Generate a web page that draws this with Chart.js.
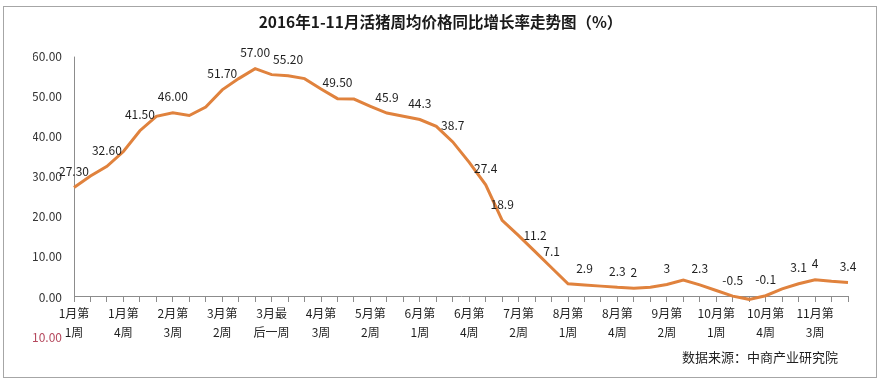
<!DOCTYPE html>
<html>
<head>
<meta charset="utf-8">
<script src="https://cdn.jsdelivr.net/npm/chart.js@4/dist/chart.umd.min.js"></script>
<style>
html,body{margin:0;padding:0;background:#fff;}
canvas{display:block;}
</style>
</head>
<body>
<canvas id="c" width="881" height="383"></canvas>
<script>
// ---- data ----
const chartTitle = '2016年1-11月活猪周均价格同比增长率走势图（%）';
const sourceNote = '数据来源：中商产业研究院';

const weeks = [
  '1月第1周','1月第2周','1月第3周','1月第4周','2月第1周','2月第2周','2月第3周','2月第4周',
  '3月第1周','3月第2周','3月第3周','3月第4周','3月最后一周','4月第1周','4月第2周','4月第3周',
  '4月第4周','5月第1周','5月第2周','5月第3周','5月第4周','6月第1周','6月第2周','6月第3周',
  '6月第4周','6月第5周','7月第1周','7月第2周','7月第3周','7月第4周','8月第1周','8月第2周',
  '8月第3周','8月第4周','8月第5周','9月第1周','9月第2周','9月第3周','9月第4周','10月第1周',
  '10月第2周','10月第3周','10月第4周','11月第1周','11月第2周','11月第3周','11月第4周','11月第5周'
];

const growth = [
  27.3, 30.2, 32.6, 36.3, 41.5, 45.1, 46.0, 45.3,
  47.4, 51.7, 54.5, 57.0, 55.5, 55.2, 54.5, 51.9,
  49.5, 49.4, 47.6, 45.9, 45.1, 44.3, 42.6, 38.7,
  33.6, 28.0, 19.1, 15.3, 11.3, 7.3, 3.3, 3.0,
  2.7, 2.4, 2.2, 2.4, 3.1, 4.2, 3.0, 1.6,
  0.2, -0.6, 0.3, 2.0, 3.3, 4.3, 3.9, 3.6
];

// data label text shown on the chart (null = no label)
const pointLabels = [
  '27.30', null, '32.60', null, '41.50', null, '46.00', null,
  null, '51.70', null, '57.00', null, '55.20', null, null,
  '49.50', null, null, '45.9', null, '44.3', null, '38.7',
  null, '27.4', '18.9', null, '11.2', '7.1', null, '2.9',
  null, '2.3', '2', null, '3', null, '2.3', null,
  '-0.5', null, '-0.1', null, '3.1', '4', null, '3.4'
];

const tickEvery = 3;
const tickLabels = [
  ['1月第','1周'], ['1月第','4周'], ['2月第','3周'], ['3月第','2周'],
  ['3月最','后一周'], ['4月第','3周'], ['5月第','2周'], ['6月第','1周'],
  ['6月第','4周'], ['7月第','2周'], ['8月第','1周'], ['8月第','4周'],
  ['9月第','2周'], ['10月第','1周'], ['10月第','4周'], ['11月第','3周']
];

const yMin = -10, yMax = 60, yStep = 10;

// ---- styling ----
const FONT = '"Noto Sans CJK SC", "Noto Sans", sans-serif';
const LINE_COLOR = '#E0823D';
const AXIS_COLOR = '#8c8c8c';

const framePlugin = {
  id: 'frame',
  beforeDraw(chart) {
    const ctx = chart.ctx;
    ctx.save();
    ctx.fillStyle = '#ffffff';
    ctx.fillRect(0, 0, chart.width, chart.height);
    ctx.strokeStyle = '#a6a6a6';
    ctx.lineWidth = 1;
    ctx.strokeRect(3.5, 6.5, 873, 371);
    ctx.restore();
  },
  beforeDatasetsDraw(chart) {
    const ctx = chart.ctx;
    const y = chart.scales.y;
    const x = Math.round(chart.chartArea.left) + 0.5;
    ctx.save();
    ctx.strokeStyle = AXIS_COLOR;
    ctx.lineWidth = 1;
    ctx.beginPath();
    ctx.moveTo(x, chart.chartArea.top);
    ctx.lineTo(x, y.getPixelForValue(0));
    ctx.stroke();
    ctx.restore();
  },
  afterDatasetsDraw(chart) {
    const ctx = chart.ctx;
    const meta = chart.getDatasetMeta(0);
    ctx.save();
    ctx.font = '12px ' + FONT;
    ctx.fillStyle = '#1f1f1f';
    ctx.textAlign = 'center';
    ctx.textBaseline = 'middle';
    pointLabels.forEach((t, i) => {
      if (t === null) return;
      const p = meta.data[i];
      ctx.fillText(t, p.x, p.y - 16);
    });
    ctx.restore();
  },
  afterDraw(chart) {
    const ctx = chart.ctx;
    ctx.save();
    ctx.font = '13px ' + FONT;
    ctx.fillStyle = '#1f1f1f';
    ctx.textAlign = 'right';
    ctx.textBaseline = 'middle';
    ctx.fillText(sourceNote, 838, 357);
    ctx.restore();
  }
};

new Chart(document.getElementById('c'), {
  type: 'line',
  data: {
    labels: weeks,
    datasets: [{
      data: growth,
      borderColor: LINE_COLOR,
      borderWidth: 3,
      pointRadius: 0,
      tension: 0,
      fill: false
    }]
  },
  options: {
    responsive: false,
    animation: false,
    devicePixelRatio: 1,
    layout: { padding: { left: 33, right: 33, top: 0, bottom: 46 } },
    plugins: {
      legend: { display: false },
      tooltip: { enabled: false },
      title: {
        display: true,
        text: chartTitle,
        color: '#1a1a1a',
        font: { family: FONT, size: 15.5, weight: 'bold', lineHeight: 1.2 },
        padding: { top: 13, bottom: 25 }
      }
    },
    scales: {
      x: {
        type: 'category',
        position: { y: 0 },
        offset: false,
        grid: { display: true, drawOnChartArea: false, drawTicks: true, tickLength: 5, color: AXIS_COLOR },
        border: { display: true, color: AXIS_COLOR, width: 1 },
        ticks: {
          autoSkip: false,
          maxRotation: 0,
          minRotation: 0,
          padding: 2,
          color: '#1f1f1f',
          font: { family: FONT, size: 12, lineHeight: '19px' },
          callback: (v, i) => (i % tickEvery === 0 ? tickLabels[i / tickEvery] : '')
        },
        afterFit: (s) => { s.height = 0; }
      },
      y: {
        min: yMin,
        max: yMax,
        grid: { display: false, drawTicks: false },
        border: { display: false },
        ticks: {
          stepSize: yStep,
          padding: 12,
          font: { family: FONT, size: 12 },
          color: (c) => (c.tick && c.tick.value < 0 ? '#b5485d' : '#333333'),
          callback: (v) => Number(v).toFixed(2)
        },
        afterFit: (s) => { s.width = 41; }
      }
    }
  },
  plugins: [framePlugin]
});
</script>
</body>
</html>
